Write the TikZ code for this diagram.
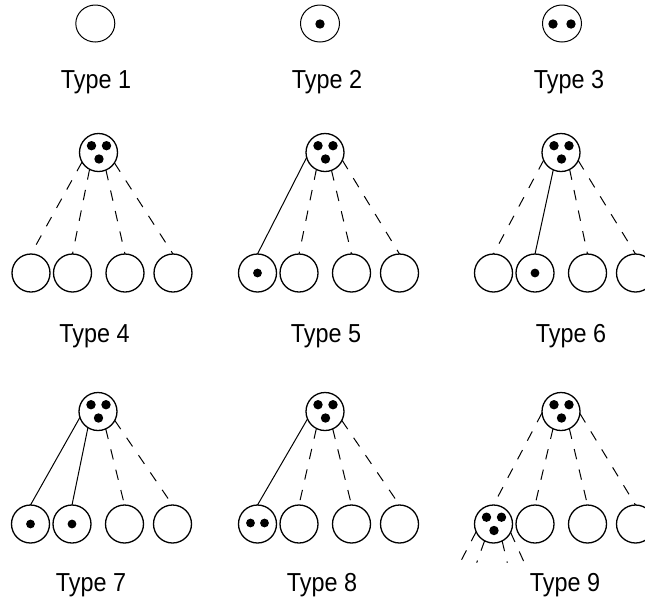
\documentclass[tikz,border=0pt]{standalone}
\usepackage{fontspec}
\setmainfont{Liberation Sans}
\usetikzlibrary{calc,shapes.geometric}
\tikzset{
  bigc/.style={circle, draw, line width=1.3pt, fill=white, minimum size=38pt, inner sep=0pt, outer sep=0pt},
  smallc/.style={ellipse, draw, line width=1pt, minimum width=39pt, minimum height=37pt, inner sep=0pt, outer sep=0pt},
  pdot/.style={circle, fill=black, draw=none, minimum size=9.4pt, inner sep=0pt},
  cdot/.style={circle, fill=black, draw=none, minimum size=8.8pt, inner sep=0pt},
  dline/.style={line width=1pt, dash pattern=on 10.5pt off 10.5pt},
  sline/.style={line width=1pt},
  lbl/.style={font=\fontsize{26}{30}\selectfont, anchor=base, inner sep=0pt}
}
\newcommand{\lbltext}[1]{\scalebox{0.9}[1]{#1}}
\newcommand{\mktree}[4]{%
  \node[bigc] (#1p) at (#2,#3) {};
  \node[pdot] (#1pa) at ($(#1p)+(-7,-6.8)$) {};
  \node[pdot] (#1pb) at ($(#1p)+(8,-6.8)$) {};
  \node[pdot] (#1pc) at ($(#1p)+(0.5,6.5)$) {};
  \node[bigc] (#1c1) at (#2-67.5,#4) {};
  \node[bigc] (#1c2) at (#2-26,#4) {};
  \node[bigc] (#1c3) at (#2+26.5,#4) {};
  \node[bigc] (#1c4) at (#2+74.5,#4) {};
}
\begin{document}
\begin{tikzpicture}[x=1pt,y=-1pt]
\useasboundingbox (0,0) rectangle (645,598);
\clip (0,0) rectangle (645,598);

% Row 1
\node[smallc] (t1) at (95.3,23.5) {};
\node[smallc] (t2) at (320,23.5) {};
\node[pdot] (t2d) at (320,24) {};
\node[smallc] (t3) at (562,23.5) {};
\node[pdot] (t3a) at (553,24) {};
\node[pdot] (t3b) at (571,24) {};
\node[lbl] (l1) at (96,88.5) {\lbltext{Type 1}};
\node[lbl] (l2) at (327,88.5) {\lbltext{Type 2}};
\node[lbl] (l3) at (569,88.5) {\lbltext{Type 3}};

% Row 2
\mktree{a}{98.5}{152.5}{273}
\mktree{b}{325}{152.5}{273}
\mktree{c}{561}{152.5}{273}
\node[cdot] (b1d) at (bc1) {};
\node[cdot] (c2d) at (cc2) {};

\draw[dline] (ap.210) -- (ac1.north);
\draw[dline] (ap.242) -- (ac2.north);
\draw[dline] (ap.293) -- (ac3.north);
\draw[dline] (ap.327) -- (ac4.north);

\draw[sline] (bp.195) -- (bc1.north);
\draw[dline] (bp.243) -- (bc2.north);
\draw[dline] (bp.290) -- (bc3.north);
\draw[dline] (bp.336) -- (bc4.north);

\draw[dline] (cp.204) -- (cc1.north);
\draw[sline] (cp.246) -- (cc2.north);
\draw[dline] (cp.297) -- (cc3.north);
\draw[dline] (cp.335) -- (cc4.north);

\node[lbl] (l4) at (94.5,342) {\lbltext{Type 4}};
\node[lbl] (l5) at (326,342) {\lbltext{Type 5}};
\node[lbl] (l6) at (571,342) {\lbltext{Type 6}};

% Row 3
\mktree{d}{98}{411.5}{524}
\mktree{e}{325}{411.5}{524}
\mktree{f}{561}{411.5}{524}
\node[cdot] (d1d) at (dc1) {};
\node[cdot] (d2d) at (dc2) {};
\node[cdot] (e1a) at ($(ec1)+(-7,-1)$) {};
\node[cdot] (e1b) at ($(ec1)+(7,-1)$) {};
\node[pdot] (f1a) at ($(fc1)+(-7,-6.8)$) {};
\node[pdot] (f1b) at ($(fc1)+(8,-6.8)$) {};
\node[pdot] (f1c) at ($(fc1)+(0.5,6.5)$) {};

\draw[sline] (dp.198) -- (dc1.north);
\draw[sline] (dp.238) -- (dc2.north);
\draw[dline] (dp.294) -- (dc3.north);
\draw[dline] (dp.332) -- (dc4.north);

\draw[sline] (ep.203) -- (ec1.north);
\draw[dline] (ep.243) -- (ec2.north);
\draw[dline] (ep.294) -- (ec3.north);
\draw[dline] (ep.332) -- (ec4.north);

\draw[dline] (fp.184) -- (fc1.north);
\draw[dline] (fp.245) -- (fc2.north);
\draw[dline] (fp.296) -- (fc3.north);
\draw[dline] (fp.354) -- (fc4.north);

\coordinate (s1) at (460,562.7);
\coordinate (s2) at (476.7,562.7);
\coordinate (s3) at (507.3,562.7);
\coordinate (s4) at (524.3,562.7);
\draw[dline] (fc1.204) -- (s1);
\draw[dline] (fc1.242) -- (s2);
\draw[dline] (fc1.297) -- (s3);
\draw[dline] (fc1.334) -- (s4);

\node[lbl] (l7) at (91,591) {\lbltext{Type 7}};
\node[lbl] (l8) at (322,591) {\lbltext{Type 8}};
\node[lbl] (l9) at (565,591) {\lbltext{Type 9}};
\end{tikzpicture}
\end{document}
